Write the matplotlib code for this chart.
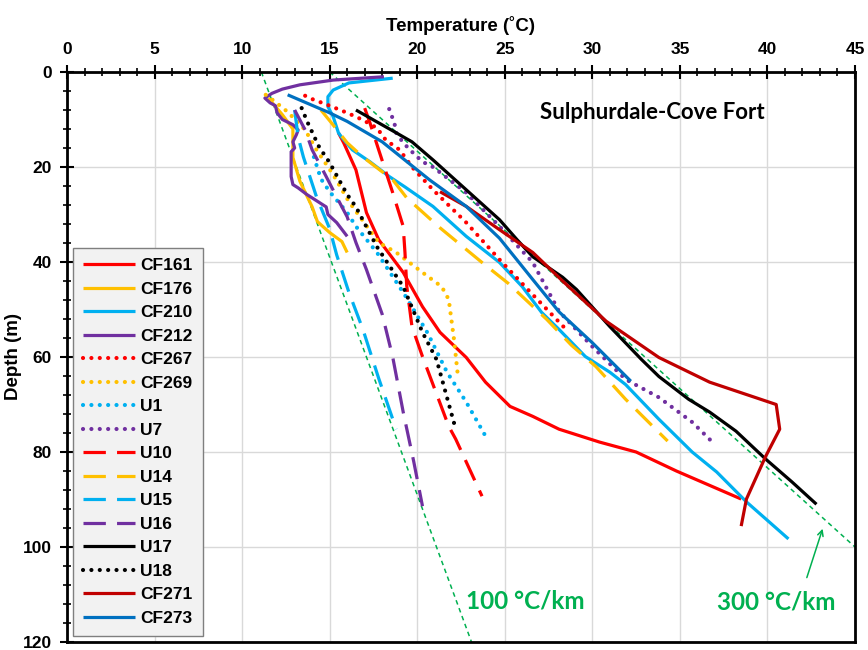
import numpy as np
import matplotlib.pyplot as plt

# ---- data (temperature degC, depth m) ----
cf161_t = [15.5, 15.8, 16.5, 17.1, 17.8, 19.2, 20.3, 21.3, 22.8, 23.9, 25.3, 26.6, 28.1, 30.4, 32.5, 34.8, 38.5]
cf161_d = [12.8, 14.9, 20.6, 29.6, 35.3, 42.2, 49.4, 54.8, 60.1, 65.3, 70.4, 72.5, 75.2, 77.9, 80.0, 84.0, 89.9]

cf176_t = [11.5, 12.3, 12.9, 12.9, 13.3, 14.0, 14.3, 15.0, 15.7, 16.0]
cf176_d = [5.5, 9.0, 12.0, 18.0, 23.0, 28.4, 31.5, 33.8, 35.7, 38.0]

cf210_t = [18.6, 16.1, 15.2, 14.9, 14.9, 15.2, 15.5, 15.7, 16.3, 17.3, 18.4, 19.3, 20.9, 22.8, 24.7, 26.0, 27.1,
           28.1, 29.6, 31.0, 31.9, 33.8, 35.7, 37.1, 38.8, 41.2]
cf210_d = [1.3, 2.3, 3.8, 5.2, 7.3, 9.4, 12.8, 13.8, 16.4, 18.9, 22.0, 24.2, 28.3, 34.6, 40.1, 45.2, 50.6,
           54.2, 59.9, 63.2, 65.8, 73.1, 80.0, 84.2, 90.5, 98.3]

cf212_t = [18.1, 15.2, 13.3, 12.3, 11.7, 11.3, 11.6, 11.9, 12.0, 12.3, 12.9, 13.2, 13.1, 12.9, 13.0, 12.8, 12.8,
           12.8, 12.9, 13.2, 13.7, 14.8, 14.9, 15.4, 16.0]
cf212_d = [1.0, 1.7, 2.7, 3.6, 4.5, 5.5, 6.5, 7.1, 8.6, 10.0, 11.1, 12.2, 13.2, 14.7, 16.0, 16.8, 18.0,
           22.0, 23.7, 24.4, 25.8, 28.4, 30.0, 31.7, 34.6]

cf267_t = [13.6, 14.0, 15.0, 16.0, 16.9, 17.7, 18.2, 19.0, 19.7, 20.9, 22.8, 24.7, 26.5, 28.4]
cf267_d = [5.0, 5.7, 7.1, 8.6, 10.1, 11.8, 14.3, 16.4, 20.0, 24.8, 31.7, 39.5, 46.5, 53.8]

cf269_t = [11.35, 11.9, 12.6, 13.6, 14.25, 15.2, 16.1, 17.8, 18.8, 20.3, 21.4, 21.8, 22.1, 22.3]
cf269_d = [4.8, 6.3, 8.4, 12.2, 16.4, 21.6, 27.3, 35.9, 38.0, 42.2, 45.2, 47.9, 56.3, 63.2]

u1_t = [14.1, 14.5, 15.0, 16.0, 16.5, 17.7, 19.3, 20.6, 21.7, 22.8, 24.0]
u1_d = [17.9, 22.5, 25.2, 29.6, 32.5, 38.0, 47.0, 55.0, 63.2, 69.5, 77.3]

u7_t = [18.4, 18.7, 18.8, 19.2, 19.7, 20.3, 20.9, 22.8, 24.7, 26.6, 28.1, 30.0, 31.9, 33.8, 35.7, 36.8]
u7_d = [7.8, 10.8, 12.8, 14.9, 16.8, 18.9, 20.0, 25.4, 32.5, 40.1, 50.4, 57.8, 64.7, 68.5, 73.7, 77.7]

u10_t = [17.0, 17.3, 17.8, 18.6, 19.2, 19.3, 19.4, 19.7, 20.3, 21.8, 22.2, 23.7]
u10_d = [7.6, 10.7, 16.4, 25.4, 32.5, 38.0, 45.0, 53.6, 59.9, 74.6, 77.3, 89.3]

u14_t = [14.5, 15.1, 16.0, 16.9, 18.6, 19.4, 21.3, 23.7, 25.2, 27.4, 28.8, 30.2, 31.9, 34.3]
u14_d = [8.0, 10.7, 14.9, 17.9, 22.7, 26.5, 32.8, 40.1, 44.5, 52.1, 57.5, 62.0, 68.9, 77.7]

u15_t = [13.0, 13.2, 13.5, 14.25, 15.0, 15.4, 16.1, 16.9, 17.8, 18.8]
u15_d = [8.0, 13.7, 17.9, 26.3, 33.0, 38.5, 46.4, 54.2, 64.5, 75.2]

u16_t = [13.0, 13.6, 14.0, 14.8, 15.4, 16.0, 16.5, 17.1, 18.0, 18.6, 19.2, 19.8, 20.3]
u16_d = [8.0, 12.2, 16.4, 22.0, 26.3, 30.5, 35.9, 41.6, 51.0, 60.0, 71.6, 82.0, 91.4]

u17_t = [16.5, 18.8, 19.7, 20.9, 22.8, 24.7, 25.7, 26.6, 28.3, 29.1, 31.0, 32.8, 33.8, 35.5, 36.7, 38.2,
         39.9, 41.4, 42.8]
u17_d = [8.0, 12.8, 14.7, 18.5, 24.8, 31.1, 35.3, 38.9, 43.2, 45.8, 53.6, 60.5, 64.1, 68.9, 71.6, 75.6,
         81.5, 86.3, 91.0]

u18_t = [13.4, 13.75, 14.4, 15.0, 16.0, 16.5, 17.7, 19.2, 20.3, 21.1, 22.2]
u18_d = [7.6, 10.7, 15.8, 19.1, 25.8, 28.4, 36.8, 45.2, 54.8, 60.5, 75.2]

cf271_t = [21.3, 22.8, 24.7, 26.6, 28.3, 30.8, 33.8, 36.7, 40.5, 40.7, 39.9, 38.8, 38.5]
cf271_d = [25.2, 28.3, 33.2, 38.0, 44.0, 52.5, 60.1, 65.3, 70.0, 75.2, 80.9, 89.9, 95.6]

cf273_t = [12.6, 15.0, 16.0, 18.0, 20.7, 22.8, 24.7, 26.6, 28.1, 30.0, 32.2]
cf273_d = [4.8, 8.6, 10.4, 14.7, 22.7, 28.3, 35.0, 43.7, 50.5, 57.0, 65.1]

# reference gradients (end points)
g100_t = [11.1, 23.1]
g100_d = [0, 120]
g300_t = [15.0, 45.0]
g300_d = [0, 100]

RED = '#ff0000'
GOLD = '#ffc000'
SKY = '#00b0f0'
PURPLE = '#7030a0'
DKRED = '#c00000'
BLUE = '#0070c0'
GREEN = '#00b050'

SOLID = '-'
DOT = (0, (0.01, 2.0))
DASH = (0, (7, 3.5))

series = [
    ('CF161', cf161_t, cf161_d, RED, SOLID),
    ('CF176', cf176_t, cf176_d, GOLD, SOLID),
    ('CF210', cf210_t, cf210_d, SKY, SOLID),
    ('CF212', cf212_t, cf212_d, PURPLE, SOLID),
    ('CF267', cf267_t, cf267_d, RED, DOT),
    ('CF269', cf269_t, cf269_d, GOLD, DOT),
    ('U1', u1_t, u1_d, SKY, DOT),
    ('U7', u7_t, u7_d, PURPLE, DOT),
    ('U10', u10_t, u10_d, RED, DASH),
    ('U14', u14_t, u14_d, GOLD, DASH),
    ('U15', u15_t, u15_d, SKY, DASH),
    ('U16', u16_t, u16_d, PURPLE, DASH),
    ('U17', u17_t, u17_d, 'black', SOLID),
    ('U18', u18_t, u18_d, 'black', DOT),
    ('CF271', cf271_t, cf271_d, DKRED, SOLID),
    ('CF273', cf273_t, cf273_d, BLUE, SOLID),
]

plt.rcParams['font.family'] = ['Liberation Sans', 'DejaVu Sans']
plt.rcParams['font.weight'] = 'bold'

fig = plt.figure(figsize=(8.68, 6.5), dpi=100)
ax = fig.add_axes([67 / 868, 1 - 642 / 650, 788 / 868, 570 / 650])

for name, t, d, c, ls in series:
    if ls == DOT:
        ax.plot(t, d, color=c, linestyle=ls, lw=3.0, label=name, dash_capstyle='round')
    else:
        ax.plot(t, d, color=c, linestyle=ls, lw=2.3, label=name, solid_capstyle='butt')

ax.plot(g100_t, g100_d, color=GREEN, lw=1.1, linestyle=(0, (3, 2.5)), zorder=1)
ax.plot(g300_t, g300_d, color=GREEN, lw=1.1, linestyle=(0, (3, 2.5)), zorder=1)

ax.set_xlim(0, 45)
ax.set_ylim(120, 0)
ax.xaxis.tick_top()
ax.xaxis.set_label_position('top')
ax.set_xticks(np.arange(0, 46, 5))
ax.set_xticks(np.arange(0, 46, 1), minor=True)
ax.set_yticks(np.arange(0, 121, 20))
ax.set_yticks(np.arange(0, 121, 4), minor=True)
ax.tick_params(which='major', direction='inout', length=10, width=1.5, labelsize=12.5, pad=6)
ax.tick_params(which='minor', direction='inout', length=6, width=1.2)
ax.tick_params(axis='y', which='both', right=False)
ax.tick_params(axis='x', which='both', bottom=False)
ax.grid(True, which='major', color='#d9d9d9', lw=1)
ax.set_axisbelow(True)
for s in ax.spines.values():
    s.set_linewidth(2)

ax.set_xlabel('Temperature (˚C)', fontsize=13.5, fontweight='bold', labelpad=8)
ax.set_ylabel('Depth (m)', fontsize=13.5, fontweight='bold')
ax.yaxis.set_label_coords(-45 / 788, 0.5)

ax.text(33.4, 8.6, 'Sulphurdale-Cove Fort', fontsize=16, fontweight='bold',
        family=['Lato', 'DejaVu Sans'], ha='center', va='center')
ax.text(22.8, 111.3, '100 °C/km', fontsize=17.5, fontweight='bold', color=GREEN,
        family=['Lato', 'DejaVu Sans'], ha='left', va='center')
ax.text(37.1, 111.5, '300 °C/km', fontsize=17.5, fontweight='bold', color=GREEN,
        family=['Lato', 'DejaVu Sans'], ha='left', va='center')
ax.annotate('', xy=(43.2, 95.6), xytext=(42.2, 107),
            arrowprops=dict(arrowstyle='->', color=GREEN, lw=1.1))

leg = ax.legend(loc='lower left', bbox_to_anchor=(0.0076, 0.0105), borderaxespad=0,
                fontsize=12.5, handlelength=3.0, handletextpad=0.25, labelspacing=0.48,
                borderpad=0.6, fancybox=False, framealpha=1)
leg.get_frame().set_facecolor('#f2f2f2')
leg.get_frame().set_edgecolor('#7f7f7f')
leg.get_frame().set_linewidth(1)

fig.savefig('out.png', dpi=100)
